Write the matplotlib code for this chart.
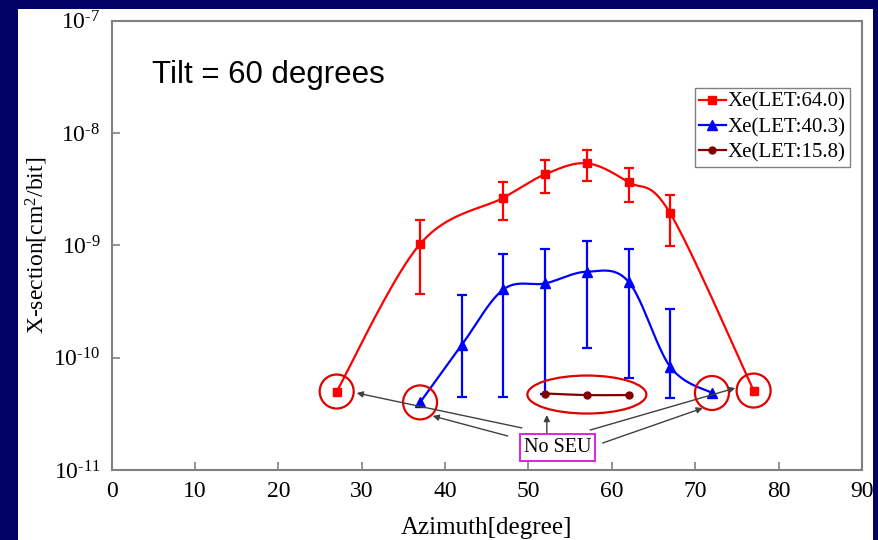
import numpy as np
import matplotlib
matplotlib.use("Agg")
import matplotlib.pyplot as plt
from matplotlib.patches import Ellipse, Rectangle
from matplotlib.transforms import ScaledTranslation
from matplotlib.ticker import FuncFormatter, FixedLocator

plt.rcParams['font.family'] = ['Liberation Serif', 'DejaVu Serif']
plt.rcParams['axes.unicode_minus'] = False
plt.rcParams['mathtext.fontset'] = 'custom'
plt.rcParams['mathtext.rm'] = 'Liberation Serif'
plt.rcParams['mathtext.it'] = 'Liberation Serif:italic'
plt.rcParams['mathtext.bf'] = 'Liberation Serif:bold'

# Xe(LET:64.0)
x_64 = [27, 37, 47, 52, 57, 62, 67, 77]
y_64 = [5.0e-11, 1.03e-9, 2.66e-9, 4.3e-9, 5.38e-9, 3.65e-9, 1.93e-9, 5.1e-11]
lo_64 = [None, 3.7e-10, 1.68e-9, 2.91e-9, 3.77e-9, 2.45e-9, 9.9e-10, None]
hi_64 = [None, 1.68e-9, 3.65e-9, 5.75e-9, 7.08e-9, 4.85e-9, 2.81e-9, None]

# Xe(LET:40.3)
x_40 = [37, 42, 47, 52, 57, 62, 67, 72]
y_40 = [4.0e-11, 1.30e-10, 4.06e-10, 4.59e-10, 5.83e-10, 4.75e-10, 8.3e-11, 4.85e-11]
lo_40 = [None, 4.5e-11, 4.5e-11, 4.8e-11, 1.21e-10, 6.56e-11, 4.4e-11, None]
hi_40 = [None, 3.61e-10, 8.34e-10, 9.2e-10, 1.10e-9, 9.2e-10, 2.7e-10, None]

# Xe(LET:15.8)
x_15 = [52, 57, 62]
y_15 = [4.8e-11, 4.65e-11, 4.65e-11]

# points with no upset observed (circled)
no_seu_x = [27, 37, 72, 77]
no_seu_y = [5.0e-11, 4.0e-11, 4.85e-11, 5.1e-11]

labels = ['Xe(LET:64.0)', 'Xe(LET:40.3)', 'Xe(LET:15.8)']
colors = ['#FF0000', '#0000FF', '#7F0000']
markers = ['s', '^', 'o']

x_ticks = [0, 10, 20, 30, 40, 50, 60, 70, 80, 90]
y_ticks = [1e-11, 1e-10, 1e-9, 1e-8, 1e-7]


def smooth(xs, ys, n=24):
    """Catmull-Rom curve through the points in (x, log10 y) space."""
    px = np.asarray(xs, float)
    py = np.log10(np.asarray(ys, float))
    px = np.concatenate([[px[0]], px, [px[-1]]])
    py = np.concatenate([[py[0]], py, [py[-1]]])
    outx, outy = [], []
    t = np.linspace(0, 1, n)
    for i in range(1, len(px) - 2):
        p0, p1, p2, p3 = [np.array([px[j], py[j]]) for j in (i - 1, i, i + 1, i + 2)]
        m1 = (p2 - p0) / 2.0
        m2 = (p3 - p1) / 2.0
        h00 = 2 * t**3 - 3 * t**2 + 1
        h10 = t**3 - 2 * t**2 + t
        h01 = -2 * t**3 + 3 * t**2
        h11 = t**3 - t**2
        seg = (np.outer(h00, p1) + np.outer(h10, m1) + np.outer(h01, p2) + np.outer(h11, m2))
        outx.extend(seg[:, 0])
        outy.extend(seg[:, 1])
    return np.array(outx), 10 ** np.array(outy)


def decade_label(v, pos):
    e = int(round(np.log10(v)))
    return r'$\mathregular{10^{\text{-}%d}}$' % abs(e)


fig = plt.figure(figsize=(8.79, 5.4), dpi=100)
fig.patch.set_facecolor('#000066')
fig.patches.append(Rectangle((18 / 879, 0), (873 - 18) / 879, 1 - 9 / 540,
                             transform=fig.transFigure, facecolor='white',
                             edgecolor='none', zorder=-10))

ax = fig.add_axes([0.1269, 0.1296, 0.8538, 0.8319])
ax.set_facecolor('white')
ax.set_xlim(0, 90)
ax.set_yscale('log')
ax.set_ylim(1e-11, 1e-7)

series = [(x_64, y_64, lo_64, hi_64), (x_40, y_40, lo_40, hi_40), (x_15, y_15, None, None)]
msizes = [6, 6.5, 5]
for (xs, ys, lo, hi), c, m, lab, ms in zip(series, colors, markers, labels, msizes):
    sx, sy = smooth(xs, ys)
    ax.plot(sx, sy, color=c, lw=1.6, zorder=3)
    ax.plot(xs, ys, linestyle='none', marker=m, color=c, ms=ms, zorder=4)
    ax.plot([], [], color=c, lw=1.6, marker=m, ms=ms, label=lab)
    if lo is not None:
        ex = [x for x, l in zip(xs, lo) if l is not None]
        ey = [y for y, l in zip(ys, lo) if l is not None]
        el = [y - l for y, l in zip(ys, lo) if l is not None]
        eh = [h - y for y, h in zip(ys, hi) if h is not None]
        ax.errorbar(ex, ey, yerr=[el, eh], fmt='none', ecolor=c, elinewidth=1.6,
                    capsize=3.5, capthick=1.6, zorder=3)

# red rings around the no-upset points
for x, y in zip(no_seu_x, no_seu_y):
    tr = fig.dpi_scale_trans + ScaledTranslation(x, y, ax.transData)
    ax.add_patch(Ellipse((0, 0), 0.34, 0.34, transform=tr, fill=False,
                         edgecolor='#E00000', lw=1.6, zorder=5))
cx = (x_15[0] + x_15[-1]) / 2.0
cy = float(np.exp(np.mean(np.log(y_15))))
tr = fig.dpi_scale_trans + ScaledTranslation(cx, cy, ax.transData)
ax.add_patch(Ellipse((0, 0), 1.19, 0.38, transform=tr, fill=False,
                     edgecolor='#E00000', lw=1.6, zorder=5))

ax.text(53.5, 1.6e-11, 'No SEU', fontsize=14.5, ha='center', va='center', zorder=6,
        bbox=dict(boxstyle='square,pad=0.2', facecolor='white', edgecolor='#E020E0', lw=1.4))

arrows = [((49.2, 2.37e-11), (29.4, 4.85e-11)),
          ((47.5, 2.01e-11), (38.5, 3.03e-11)),
          ((52.2, 2.13e-11), (52.2, 3.09e-11)),
          ((57.4, 2.27e-11), (74.8, 5.37e-11)),
          ((58.9, 1.74e-11), (70.9, 3.56e-11))]
for start, end in arrows:
    ax.annotate('', xy=end, xytext=start, zorder=5,
                arrowprops=dict(arrowstyle='-|>', color='#404040', lw=1.0,
                                mutation_scale=9, shrinkA=0, shrinkB=0))

ax.text(0.054, 0.8615, 'Tilt = 60 degrees', transform=ax.transAxes,
        family='Liberation Sans', fontsize=22.5, va='baseline', ha='left')

ax.xaxis.set_major_locator(FixedLocator(x_ticks))
ax.yaxis.set_major_locator(FixedLocator(y_ticks))
ax.yaxis.set_minor_locator(FixedLocator([]))
ax.yaxis.set_major_formatter(FuncFormatter(decade_label))
ax.tick_params(direction='in', length=6, width=1.2, color='#808080',
               labelsize=17, pad=8)
for s in ax.spines.values():
    s.set_color('#808080')
    s.set_linewidth(1.5)

ax.set_xlabel('Azimuth[degree]', fontsize=18, labelpad=11)
ax.set_ylabel('X-section[cm$^2$/bit]', fontsize=17, labelpad=2)

leg = ax.legend(loc='upper right', bbox_to_anchor=(0.984, 0.850), fontsize=15,
                frameon=True, fancybox=False, handlelength=1.3, handletextpad=0.1,
                borderpad=0.2, labelspacing=0.28, borderaxespad=0)
leg.get_frame().set_edgecolor('#606060')
leg.get_frame().set_linewidth(1.0)

fig.savefig('out.png', dpi=100, facecolor=fig.get_facecolor())
